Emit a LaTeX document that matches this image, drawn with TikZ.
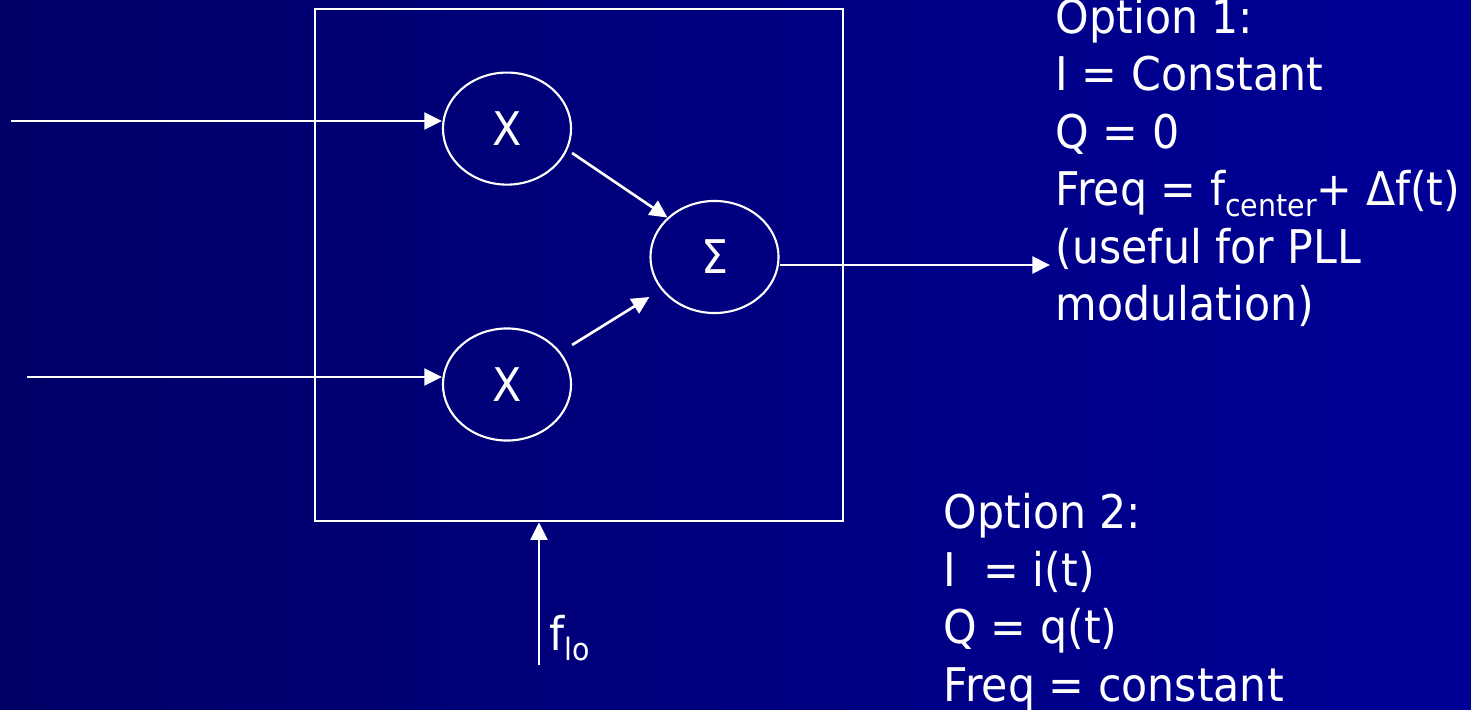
\documentclass[tikz,border=0pt]{standalone}
\usepackage{fontspec}
\setmainfont{DejaVu Sans}[FakeStretch=0.92]
\usetikzlibrary{arrows.meta,shapes.geometric,calc}
\definecolor{bgleft}{RGB}{0,0,104}
\definecolor{bgright}{RGB}{0,0,152}
\newcommand{\subtxt}[1]{\raisebox{-3.1pt}{\fontsize{8.8pt}{9pt}\selectfont #1}}

\begin{document}
\begin{tikzpicture}[x=0.01cm,y=-0.01cm,font=\fontsize{13.2pt}{16.33pt}\selectfont,
    sig/.style={white,line width=0.75pt,-{Triangle[length=5pt,width=4.8pt]}},
    op/.style={ellipse,draw=white,line width=0.6pt,text=white,inner sep=0pt,minimum width=1.28cm,minimum height=1.12cm},
    txt/.style={text=white,align=left,anchor=base west,inner sep=0pt}]
  \useasboundingbox (0,0) rectangle (1471,710);
  \shade[left color=bgleft,right color=bgright] (-2,-2) rectangle (1473,712);

  \node[draw=white,line width=0.7pt,minimum width=5.28cm,minimum height=5.12cm,inner sep=0pt] (mixer) at (579,265) {};
  \node[op] (mulA) at (507,128.6) {X};
  \node[op] (mulB) at (507,384.5) {X};
  \node[op] (sum) at (714.5,257) {Σ};

  \coordinate (inA) at (11,121);
  \coordinate (inB) at (27,377);
  \coordinate (out) at (1050,265);
  \coordinate (lo) at (539,665);

  \draw[sig] (inA) -- (inA -| mulA.west);
  \draw[sig] (inB) -- (inB -| mulB.west);
  \draw[sig] ([yshift=-0.244cm]mulA.east) -- (sum.140);
  \draw[sig] ([yshift=0.395cm]mulB.east) -- ([yshift=-0.4cm]sum.west);
  \draw[sig] (sum.east |- out) -- (out);
  \draw[sig] (lo) -- (lo |- mixer.south);

  % base of a multi-line node is its last line
  \node[txt] (flo) at (549,650) {f\subtxt{lo}};
  \node[txt] (opt1) at (1055,320.5) {Option 1:\\I = Constant\\Q = 0\\Freq = f\subtxt{center}+ Δf(t)\\(useful for PLL\\modulation)};
  \node[txt] (opt2) at (943,701) {Option 2:\\I\ \ = i(t)\\Q = q(t)\\Freq = constant};
\end{tikzpicture}
\end{document}
